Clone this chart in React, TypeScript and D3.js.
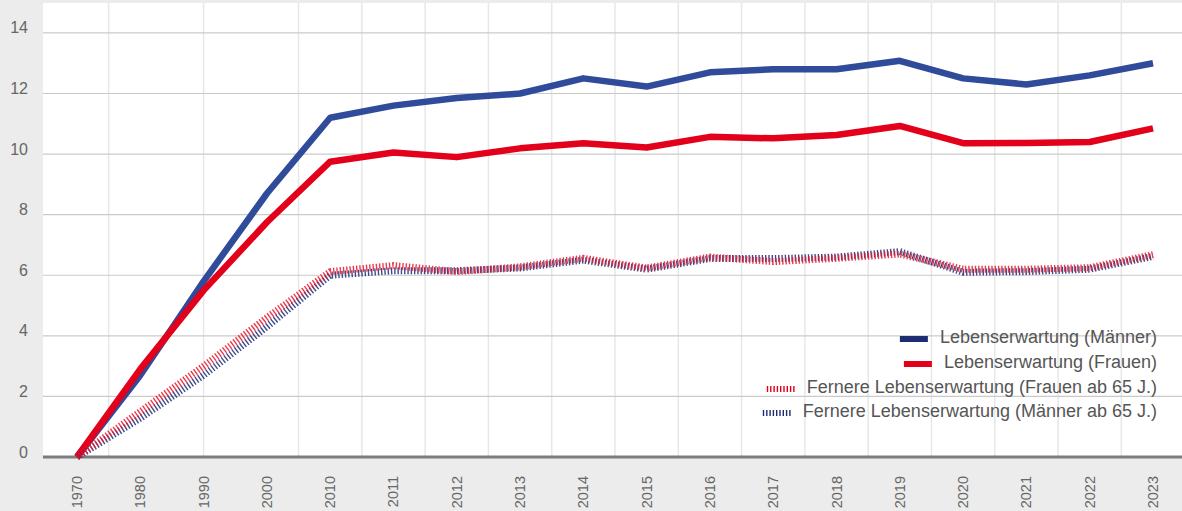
import React, { useEffect, useRef } from 'react';
import * as d3 from 'd3';

const years = ['1970', '1980', '1990', '2000', '2010', '2011', '2012', '2013', '2014', '2015', '2016', '2017', '2018', '2019', '2020', '2021', '2022', '2023'];
const maenner = [0, 2.7, 5.8, 8.7, 11.2, 11.6, 11.85, 12.0, 12.5, 12.23, 12.7, 12.8, 12.8, 13.08, 12.5, 12.3, 12.6, 13.0];
const frauen = [0, 2.9, 5.5, 7.75, 9.75, 10.05, 9.9, 10.19, 10.36, 10.22, 10.57, 10.52, 10.63, 10.93, 10.36, 10.37, 10.4, 10.85];
const frauen65 = [0, 1.5, 3.0, 4.6, 6.12, 6.32, 6.12, 6.28, 6.56, 6.24, 6.6, 6.45, 6.56, 6.7, 6.2, 6.2, 6.25, 6.68];
const maenner65 = [0, 1.28, 2.7, 4.3, 6.0, 6.15, 6.15, 6.24, 6.5, 6.2, 6.55, 6.55, 6.6, 6.78, 6.1, 6.12, 6.2, 6.62];
const yTicks = [0, 2, 4, 6, 8, 10, 12, 14];

const legendItems = [
  { label: 'Lebenserwartung (Männer)', color: '#1e2c72', dotted: false },
  { label: 'Lebenserwartung (Frauen)', color: '#e2001a', dotted: false },
  { label: 'Fernere Lebenserwartung (Frauen ab 65 J.)', color: '#e2001a', dotted: true },
  { label: 'Fernere Lebenserwartung (Männer ab 65 J.)', color: '#1e2c72', dotted: true },
];

const W = 1182;
const H = 511;
const FONT = '"Liberation Sans", Arial, sans-serif';

const App: React.FC = () => {
  const ref = useRef<SVGSVGElement>(null);

  useEffect(() => {
    document.body.style.margin = '0';
    if (!ref.current) return;
    const svg = d3.select(ref.current);
    svg.selectAll('*').remove();

    const left = 43;
    const top = 3;
    const bottom = 457;

    const x = d3.scalePoint<string>().domain(years).range([77, 1153]);
    const y = d3.scaleLinear().domain([0, 15]).range([bottom, bottom - 15 * 30.29]);

    svg.append('rect').attr('width', W).attr('height', H).attr('fill', '#ebeceb');
    svg.append('rect')
      .attr('x', left).attr('y', top)
      .attr('width', W - left).attr('height', bottom - top)
      .attr('fill', '#ffffff');

    // vertical grid (the decade part of the original is irregular)
    const vGrid: number[] = [];
    for (let i = 0; i < years.length - 1; i++) {
      if (years[i] === '1990') continue;
      if (years[i] === '1980') { vGrid.push(x('1990')!); continue; }
      vGrid.push((x(years[i])! + x(years[i + 1])!) / 2);
    }
    svg.append('g').selectAll('line').data(vGrid).enter().append('line')
      .attr('x1', d => d).attr('x2', d => d)
      .attr('y1', top).attr('y2', bottom)
      .attr('stroke', '#e6e7e7').attr('stroke-width', 1.5);

    svg.append('g').selectAll('line').data(yTicks.filter(t => t > 0)).enter().append('line')
      .attr('x1', left).attr('x2', W)
      .attr('y1', d => y(d)).attr('y2', d => y(d))
      .attr('stroke', '#c9cbcb').attr('stroke-width', 1.2);

    svg.append('g').selectAll('text').data(yTicks).enter().append('text')
      .attr('x', 28).attr('y', d => y(d) - 5)
      .attr('text-anchor', 'end').attr('dominant-baseline', 'central')
      .attr('fill', '#666').style('font-family', FONT).style('font-size', '16px')
      .text(d => d);

    svg.append('line')
      .attr('x1', left).attr('x2', W).attr('y1', bottom).attr('y2', bottom)
      .attr('stroke', '#7b7d7d').attr('stroke-width', 3);

    svg.append('g').selectAll('text').data(years).enter().append('text')
      .attr('transform', d => `translate(${x(d)},476) rotate(-90)`)
      .attr('text-anchor', 'end').attr('dominant-baseline', 'central')
      .attr('fill', '#666').style('font-family', FONT).style('font-size', '14.5px')
      .text(d => d);

    const line = d3.line<number>().x((_, i) => x(years[i])!).y(d => y(d));

    const series = [
      { values: maenner, color: '#2f4b99', dotted: false },
      { values: frauen, color: '#e2001a', dotted: false },
      { values: maenner65, color: '#1e2c72', dotted: true },
      { values: frauen65, color: '#e8172f', dotted: true },
    ];
    series.forEach(s => {
      svg.append('path')
        .attr('d', line(s.values)!)
        .attr('fill', 'none')
        .attr('stroke', s.color)
        .attr('stroke-width', s.dotted ? 7 : 6.5)
        .attr('stroke-linejoin', 'round')
        .attr('stroke-dasharray', s.dotted ? '1.4 1.9' : null)
        .attr('opacity', s.dotted ? 0.85 : 1);
    });

    const legend = svg.append('g');
    const rowY = [337, 362, 387, 411];
    legendItems.forEach((item, i) => {
      const t = legend.append('text')
        .attr('x', 1157).attr('y', rowY[i])
        .attr('text-anchor', 'end').attr('dominant-baseline', 'central')
        .attr('fill', '#555').style('font-family', FONT).style('font-size', '18px')
        .text(item.label);
      const tw = (t.node() as SVGTextElement).getComputedTextLength();
      const x1 = 1157 - tw - 12;
      legend.append('line')
        .attr('x1', x1 - 28).attr('x2', x1)
        .attr('y1', rowY[i] + 2).attr('y2', rowY[i] + 2)
        .attr('stroke', item.color)
        .attr('stroke-width', 6)
        .attr('stroke-dasharray', item.dotted ? '1.4 1.9' : null);
    });
  }, []);

  return <svg ref={ref} width={W} height={H} style={{ display: 'block' }}></svg>;
};

export default App;
